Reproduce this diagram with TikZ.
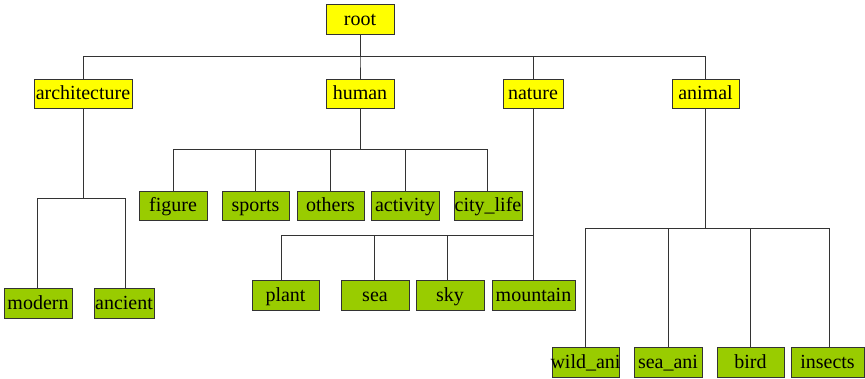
\documentclass[tikz,border=0pt]{standalone}
\usepackage{fontspec}
\setmainfont{Liberation Serif}
\definecolor{catyellow}{HTML}{FFFF00}
\definecolor{leafgreen}{HTML}{99CC00}
\definecolor{edgegray}{HTML}{333333}
\begin{document}
\begin{tikzpicture}[x=1pt,y=-1pt,
  box/.style={draw=edgegray,line width=0.8pt,inner sep=0pt,minimum height=29pt,
    text height=16pt,text depth=3pt,font=\fontsize{20}{24}\selectfont},
  cat/.style={box,fill=catyellow},
  leaf/.style={box,fill=leafgreen,minimum height=30pt},
  conn/.style={draw=edgegray,line width=0.8pt}]
\useasboundingbox (0,0) rectangle (865,379);

% top level
\node[cat,minimum height=30pt,minimum width=68pt] (root) at (360,19) {root};
\node[cat,minimum width=98pt] (arch)   at (83,93.5)    {architecture};
\node[cat,minimum width=68pt] (human)  at (360,93.5)   {human};
\node[cat,minimum width=60pt] (nature) at (533,93.5)   {nature};
\node[cat,minimum width=67pt] (animal) at (705.5,93.5) {animal};

% architecture
\node[leaf,minimum width=68pt] (modern)  at (38,303)  {modern};
\node[leaf,minimum width=60pt] (ancient) at (124,303) {ancient};

% human
\node[leaf,minimum height=29pt,minimum width=68pt] (figure)   at (173,205.5)   {figure};
\node[leaf,minimum height=29pt,minimum width=67pt] (sports)   at (255.5,205.5) {sports};
\node[leaf,minimum height=29pt,minimum width=67pt] (others)   at (330.5,205.5) {others};
\node[leaf,minimum height=29pt,minimum width=68pt] (activity) at (405,205.5)   {activity};
\node[leaf,minimum height=29pt,minimum width=68pt] (citylife) at (488,205.5)   {city\_life};

% nature
\node[leaf,minimum width=67pt] (plant)    at (285.5,295) {plant};
\node[leaf,minimum width=68pt] (sea)      at (375,295)   {sea};
\node[leaf,minimum width=68pt] (sky)      at (450,295)   {sky};
\node[leaf,minimum width=83pt] (mountain) at (533.5,295) {mountain};

% animal
\node[leaf,minimum width=67pt] (wildani) at (585.5,362) {\makebox[0pt]{wild\_ani}};
\node[leaf,minimum width=68pt] (seaani)  at (668,362)   {sea\_ani};
\node[leaf,minimum width=67pt] (bird)    at (750.5,362) {bird};
\node[leaf,minimum width=73pt] (insects) at (827.5,362) {insects};

% connectors: down from the parent to a bus, across, then down to the child
\foreach \c in {arch,human,nature,animal}
  \draw[conn] (root.south) -- ++(0,22) -| (\c.north);

\draw[conn] (arch.south) -- ++(0,90) -| ([xshift=-1pt]modern.north);
\draw[conn] (arch.south) -- ++(0,90) -| ([xshift=1pt]ancient.north);

\foreach \c in {figure,sports,others,activity}
  \draw[conn] (human.south) -- ++(0,41) -| (\c.north);
\draw[conn] (human.south) -- ++(0,41) -| ([xshift=-1pt]citylife.north);

\draw[conn] (nature.south) -- (mountain.north -| nature.south);
\draw[conn] (nature.south) -- ++(0,127) -| ([xshift=-4.5pt]plant.north);
\draw[conn] (nature.south) -- ++(0,127) -| ([xshift=-1pt]sea.north);
\draw[conn] (nature.south) -- ++(0,127) -| ([xshift=-3pt]sky.north);

\draw[conn] (animal.south) -- ++(0,120) -| ([xshift=-0.5pt]wildani.north);
\draw[conn] (animal.south) -- ++(0,120) -| (seaani.north);
\draw[conn] (animal.south) -- ++(0,120) -| ([xshift=-0.5pt]bird.north);
\draw[conn] (animal.south) -- ++(0,120) -| ([xshift=1.5pt]insects.north);
\end{tikzpicture}
\end{document}
